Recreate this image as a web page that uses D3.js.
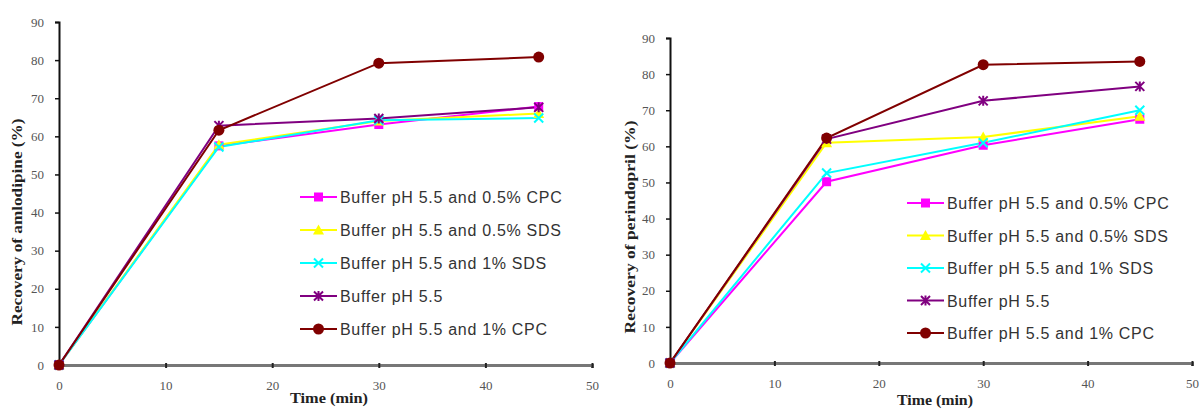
<!DOCTYPE html>
<html>
<head>
<meta charset="utf-8">
<script src="https://cdn.jsdelivr.net/npm/d3@7"></script>
<style>
  body { margin: 0; background: #fff; }
  .tick text { font-family: "Liberation Serif", serif; font-size: 13px; fill: #555; }
  .axisTitle { font-family: "Liberation Serif", serif; font-weight: bold; font-size: 15px; fill: #222; }
  .legText { font-family: "Liberation Sans", Arial, sans-serif; font-size: 16px; letter-spacing: 0.7px; fill: #333; }
</style>
</head>
<body>
<div id="chart"></div>
<script>
// time points (min)
var times = [0, 15, 30, 45];

var seriesNames = [
  "Buffer pH 5.5 and 0.5% CPC",
  "Buffer pH 5.5 and 0.5% SDS",
  "Buffer pH 5.5 and 1% SDS",
  "Buffer pH 5.5",
  "Buffer pH 5.5 and 1% CPC"
];
var seriesColors = ["#ff00ff", "#ffff00", "#00ffff", "#800080", "#800000"];
var seriesMarkers = ["square", "triangle", "cross", "asterisk", "circle"];

// amlodipine recovery (%)
var amloCPC05 = [0, 57.5, 63.1, 67.8];
var amloSDS05 = [0, 57.8, 64.0, 66.0];
var amloSDS1  = [0, 57.2, 64.2, 64.8];
var amloBuf   = [0, 62.8, 64.7, 67.6];
var amloCPC1  = [0, 61.6, 79.2, 80.8];

// perindopril recovery (%)
var periCPC05 = [0, 50.2, 60.3, 67.5];
var periSDS05 = [0, 61.0, 62.6, 68.3];
var periSDS1  = [0, 52.6, 61.0, 70.0];
var periBuf   = [0, 62.0, 72.6, 76.6];
var periCPC1  = [0, 62.3, 82.6, 83.5];

var xTicks = [0, 10, 20, 30, 40, 50];
var yTicks = [0, 10, 20, 30, 40, 50, 60, 70, 80, 90];

var svgWidth = 1202, svgHeight = 410;
var svg = d3.select("#chart").append("svg")
  .attr("width", svgWidth)
  .attr("height", svgHeight);

function drawMarker(g, type, color) {
  if (type === "square") {
    g.append("rect").attr("x", -4.5).attr("y", -4.5).attr("width", 9).attr("height", 9).attr("fill", color);
  } else if (type === "triangle") {
    g.append("path").attr("d", "M0,-5.5L5.5,4.5L-5.5,4.5Z").attr("fill", color);
  } else if (type === "cross") {
    g.append("path").attr("d", "M-4.5,-4.5L4.5,4.5M-4.5,4.5L4.5,-4.5").attr("stroke", color).attr("stroke-width", 2);
  } else if (type === "asterisk") {
    g.append("path").attr("d", "M-4.5,-4.5L4.5,4.5M-4.5,4.5L4.5,-4.5M0,-5L0,5").attr("stroke", color).attr("stroke-width", 2);
  } else {
    g.append("circle").attr("r", 5.5).attr("fill", color);
  }
}

function drawChart(opt) {
  var x = d3.scaleLinear().domain([0, 50]).range([opt.x0, opt.x1]);
  var y = d3.scaleLinear().domain([0, 90]).range([opt.y0, opt.y1]);
  var chart = svg.append("g");

  // x axis
  var xAxis = chart.append("g")
    .attr("transform", `translate(0, ${opt.y0})`)
    .call(d3.axisBottom(x).tickValues(xTicks).tickSize(3).tickPadding(13));
  xAxis.select(".domain").attr("stroke", "#777").attr("stroke-width", 3);
  xAxis.selectAll(".tick line").attr("stroke", "#222").attr("stroke-width", 2).attr("y1", -2);

  // y axis
  var yAxis = chart.append("g")
    .attr("transform", `translate(${opt.x0}, 0)`)
    .call(d3.axisLeft(y).tickValues(yTicks).tickSize(4).tickPadding(11));
  yAxis.select(".domain").attr("stroke", "#111").attr("stroke-width", 2);
  yAxis.selectAll(".tick line").attr("stroke", "#111").attr("stroke-width", 1.5);

  // lines
  var line = d3.line().x((d, i) => x(times[i])).y(d => y(d));
  opt.data.forEach(function(vals, s) {
    chart.append("path")
      .attr("d", line(vals))
      .attr("fill", "none")
      .attr("stroke", seriesColors[s])
      .attr("stroke-width", 2);
  });
  opt.data.forEach(function(vals, s) {
    vals.forEach(function(v, i) {
      var m = chart.append("g").attr("transform", `translate(${x(times[i])}, ${y(v)})`);
      drawMarker(m, seriesMarkers[s], seriesColors[s]);
    });
  });

  // axis titles
  chart.append("text")
    .attr("class", "axisTitle")
    .attr("transform", `translate(${opt.yTitleX}, ${opt.yTitleY}) rotate(-90)`)
    .attr("text-anchor", "middle")
    .attr("textLength", opt.yTitleLen)
    .attr("lengthAdjust", "spacingAndGlyphs")
    .text(opt.yTitle);
  chart.append("text")
    .attr("class", "axisTitle")
    .attr("x", opt.xTitleX).attr("y", opt.xTitleY)
    .attr("text-anchor", "middle")
    .attr("textLength", opt.xTitleLen)
    .attr("lengthAdjust", "spacingAndGlyphs")
    .text("Time (min)");

  // legend
  var leg = chart.append("g").attr("transform", `translate(${opt.legX}, ${opt.legY})`);
  seriesNames.forEach(function(name, s) {
    var row = leg.append("g").attr("transform", `translate(0, ${s * opt.legStep})`);
    row.append("line").attr("x1", 0).attr("x2", 37).attr("stroke", seriesColors[s]).attr("stroke-width", 2);
    var m = row.append("g").attr("transform", "translate(18.5, 0)");
    drawMarker(m, seriesMarkers[s], seriesColors[s]);
    row.append("text").attr("class", "legText").attr("x", 40).attr("y", 6).text(name);
  });
}

drawChart({
  x0: 59, x1: 592, y0: 365, y1: 22,
  data: [amloCPC05, amloSDS05, amloSDS1, amloBuf, amloCPC1],
  yTitle: "Recovery of amlodipine (%)", yTitleX: 22, yTitleY: 222, yTitleLen: 207,
  xTitleX: 329, xTitleY: 403, xTitleLen: 78,
  legX: 300, legY: 197, legStep: 33
});

drawChart({
  x0: 670, x1: 1192, y0: 363, y1: 38,
  data: [periCPC05, periSDS05, periSDS1, periBuf, periCPC1],
  yTitle: "Recovery of perindopril (%)", yTitleX: 635, yTitleY: 227, yTitleLen: 213,
  xTitleX: 935, xTitleY: 405, xTitleLen: 76,
  legX: 907, legY: 203, legStep: 32.5
});
</script>
</body>
</html>
